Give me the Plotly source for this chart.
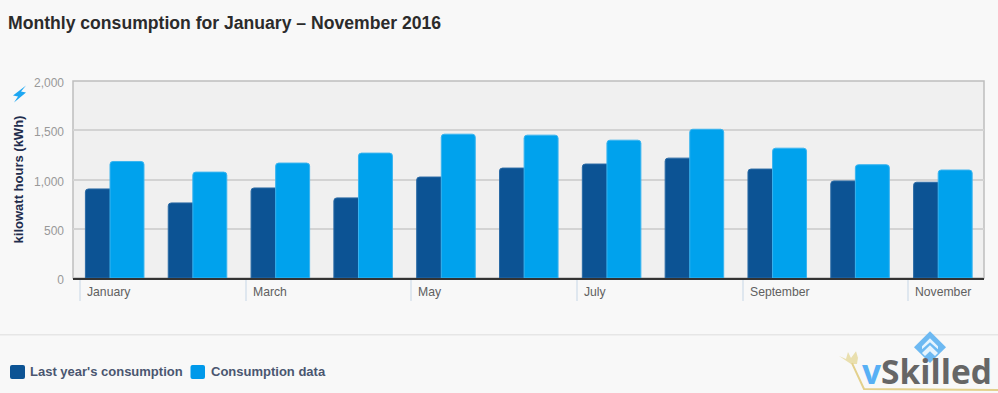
import plotly.graph_objects as go

months = ["January", "February", "March", "April", "May", "June", "July", "August", "September", "October", "November"]
last_year = [904, 762, 914, 813, 1025, 1116, 1157, 1217, 1106, 985, 972]
consumption = [1183, 1075, 1167, 1268, 1460, 1450, 1399, 1510, 1318, 1150, 1096]
labelled = ["January", "March", "May", "July", "September", "November"]
y_ticks = [0, 500, 1000, 1500, 2000]
series_names = ["Last year's consumption", "Consumption data"]

W, H = 998, 393
L, R, T, B = 73, 14, 80.5, 114.5

def px(x): return (x - L) / (W - L - R)
def py(y): return 1 - (y - T) / (H - T - B)

fig = go.Figure()
fig.add_trace(go.Bar(name=series_names[0], x=months, y=last_year, width=0.41, offset=-0.35,
                     marker=dict(color="#0c5394", line=dict(color="#2a6aa5", width=1))))
fig.add_trace(go.Bar(name=series_names[1], x=months, y=consumption, width=0.41, offset=-0.053,
                     marker=dict(color="#00a2ed", line=dict(color="#3ab4ef", width=1))))

def rect(x0, y0, x1, y1, fill):
    r = 2
    d = (f"M{px(x0+r):.5f},{py(y0):.5f} L{px(x1-r):.5f},{py(y0):.5f} Q{px(x1):.5f},{py(y0):.5f} {px(x1):.5f},{py(y0+r):.5f} "
         f"L{px(x1):.5f},{py(y1-r):.5f} Q{px(x1):.5f},{py(y1):.5f} {px(x1-r):.5f},{py(y1):.5f} "
         f"L{px(x0+r):.5f},{py(y1):.5f} Q{px(x0):.5f},{py(y1):.5f} {px(x0):.5f},{py(y1-r):.5f} "
         f"L{px(x0):.5f},{py(y0+r):.5f} Q{px(x0):.5f},{py(y0):.5f} {px(x0+r):.5f},{py(y0):.5f} Z")
    return dict(type="path", xref="paper", yref="paper", path=d, fillcolor=fill, line=dict(width=0), layer="above")

shapes = [
    dict(type="rect", xref="paper", yref="paper", x0=0, x1=1, y0=0, y1=1,
         line=dict(color="#bdbdbd", width=1.5), layer="below"),
    dict(type="line", xref="paper", yref="paper", x0=px(0), x1=px(998), y0=py(335.5), y1=py(335.5),
         line=dict(color="#e6e6e6", width=1.5)),
    rect(10, 366, 25, 380, "#0c5394"),
    rect(190.5, 366, 205, 380, "#0099ea"),
]
# decorative glyphs, placed in page pixels
def path_shape(points, fill):
    d = "M" + " L".join(f"{px(a):.5f},{py(b):.5f}" for a, b in points) + " Z"
    return dict(type="path", xref="paper", yref="paper", path=d, fillcolor=fill,
                line=dict(width=0), layer="above")

shapes.append(path_shape([(26, 85), (13, 95), (18, 96), (14, 102), (26, 92), (21, 91)], "#1ea7f2"))
shapes.append(path_shape([(930, 332), (946, 348), (930, 364), (914, 348)], "#6db9f2"))
shapes.append(path_shape([(930, 339), (938, 347), (938, 350), (930, 343), (922, 350), (922, 347)], "#e6f4fe"))
shapes.append(path_shape([(930, 346), (938, 354), (935, 357), (930, 352), (925, 357), (922, 354)], "#e6f4fe"))
shapes.append(path_shape([(839, 357), (846, 360), (848, 353), (851, 359), (856, 352), (858, 359), (859, 352), (857, 365), (851, 365)], "#e9dfae"))
shapes.append(dict(type="path", xref="paper", yref="paper",
                   path=f"M{px(852)},{py(364)} L{px(864)},{py(390)} L{px(998)},{py(391)}",
                   line=dict(color="#e3d08c", width=2), layer="above"))

annotations = [
    dict(text="<b>Monthly consumption for January – November 2016</b>", xref="paper", yref="paper",
         x=px(6), y=py(22.5), xanchor="left", yanchor="middle", showarrow=False,
         font=dict(family="Liberation Sans", size=17.6, color="#2b2b2b")),
    dict(text="<span style='color:#58b0f5'>v</span>Skilled", xref="paper", yref="paper",
         x=px(860), y=py(372), xanchor="left", yanchor="middle", showarrow=False,
         font=dict(family="Open Sans", size=33.5, color="#666666", weight=700)),
    dict(text=f"<b>{series_names[0]}</b>", xref="paper", yref="paper", x=px(28), y=py(372),
         xanchor="left", yanchor="middle", showarrow=False,
         font=dict(family="Liberation Sans", size=13, color="#4a5670")),
    dict(text=f"<b>{series_names[1]}</b>", xref="paper", yref="paper", x=px(208.5), y=py(372),
         xanchor="left", yanchor="middle", showarrow=False,
         font=dict(family="Liberation Sans", size=13, color="#4a5670")),
]
for m in labelled:
    i = months.index(m)
    annotations.append(dict(text=m, x=i - 0.415, xref="x", xshift=5, xanchor="left",
                            y=py(292.5), yref="paper", yanchor="middle", showarrow=False,
                            font=dict(family="Liberation Sans", size=12.2, color="#606060")))

fig.update_layout(
    width=W, height=H, autosize=False, barmode="overlay",
    barcornerradius=3, showlegend=False,
    paper_bgcolor="#f8f8f8", plot_bgcolor="#f0f0f0",
    margin=dict(l=L, r=R, t=T, b=B, pad=0),
    font=dict(family="Liberation Sans"),
    shapes=shapes, annotations=annotations,
    xaxis=dict(type="category", categoryorder="array", categoryarray=months, range=[-0.5, 10.5],
               tickmode="array", tickvals=[months.index(m) - 0.415 for m in labelled],
               ticktext=["" for _ in labelled], ticks="outside", ticklen=21, tickwidth=2,
               tickcolor="#dfe7ef", showline=True, linecolor="#333333", linewidth=1.5,
               showgrid=False, zeroline=False),
    yaxis=dict(range=[0, 2000], tickvals=y_ticks, tickformat=",", showgrid=True,
               gridcolor="#d3d3d3", gridwidth=1.5, zeroline=False, showline=False, ticks="",
               ticklabelshift=2, ticklabelstandoff=8,
               tickfont=dict(family="Liberation Sans", size=12, color="#999999"),
               title=dict(text="<b>kilowatt hours (kWh)</b>", standoff=7,
                          font=dict(family="Liberation Sans", size=13, color="#1f2d4d"))),
)

fig.write_html("out.html", config=dict(displayModeBar=False),
               post_script="document.body.style.margin='0';document.body.style.overflow='hidden';document.body.style.background='#f8f8f8';")
